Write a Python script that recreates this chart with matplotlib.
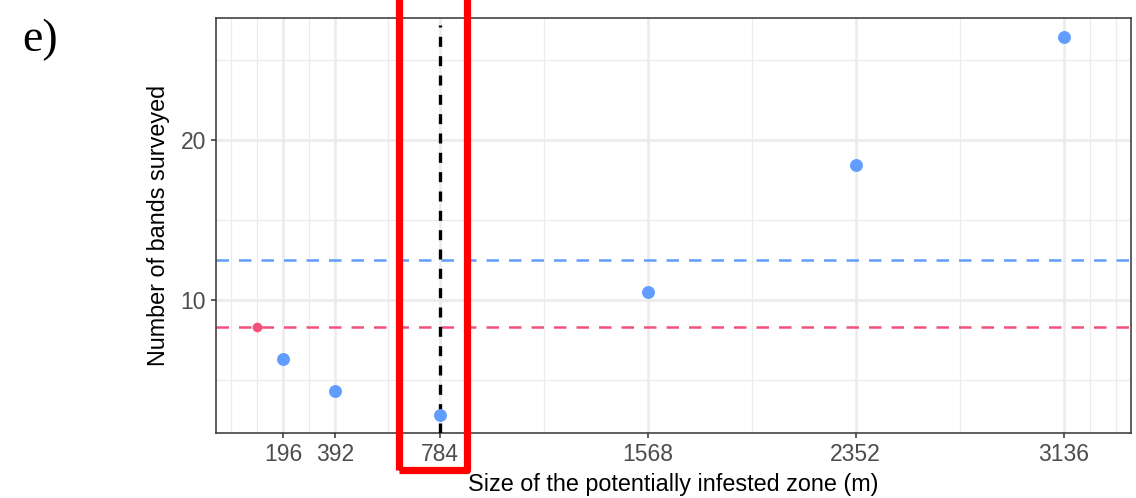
import matplotlib
matplotlib.use("Agg")
import matplotlib.pyplot as plt
from matplotlib.patches import Rectangle

# ---- data ----
zone_sizes = [196, 392, 784, 1568, 2352, 3136]
bands_blue = [6.3, 4.33, 2.83, 10.5, 18.44, 26.46]
red_x = [98]
red_y = [8.3]
mean_blue = 12.48
mean_red = 8.3
x_ticks = [196, 392, 784, 1568, 2352, 3136]
x_tick_labels = ["196", "392", "784", "1568", "2352", "3136"]
y_ticks = [10, 20]
x_minor = [0, 98, 294, 588, 1176, 1960, 2744, 3234, 3332]
y_minor = [5, 15, 25]
vline_x = 784
vline_top = 27.2
highlight_x = (631, 887)

BLUE = "#619CFF"
RED = "#F2527A"

plt.rcParams['font.family'] = ['Liberation Sans', 'DejaVu Sans']

fig = plt.figure(figsize=(11.36, 4.98), dpi=100)
ax = fig.add_axes([215.5/1136, 1-433.3/498, (1131-215.5)/1136, (433.3-17.7)/498])

ax.set_xlim(-60, 3389)
ax.set_ylim(1.67, 27.64)

# grid
for xm in x_minor:
    ax.axvline(xm, color="#EBEBEB", lw=0.9, zorder=0)
for ym in y_minor:
    ax.axhline(ym, color="#EBEBEB", lw=0.9, zorder=0)
for xv in x_ticks:
    ax.axvline(xv, color="#EBEBEB", lw=1.8, zorder=0.5)
for yv in y_ticks:
    ax.axhline(yv, color="#EBEBEB", lw=1.8, zorder=0.5)

# mean lines
ax.axhline(mean_blue, color=BLUE, lw=1.8, dashes=(5.0, 4.0), zorder=2)
ax.axhline(mean_red, color=RED, lw=1.8, dashes=(5.0, 4.0), zorder=2)

# vertical dashed black line
ax.plot([vline_x, vline_x], [ax.get_ylim()[0], vline_top], color="black", lw=2.4,
        dashes=(3.0, 2.8), zorder=3)

# points
ax.plot(zone_sizes, bands_blue, "o", color=BLUE, ms=9.3, mec="none", zorder=4)
ax.plot(red_x, red_y, "o", color=RED, ms=7, mec="none", zorder=4)

# axes styling
for s in ax.spines.values():
    s.set_color("#333333")
    s.set_linewidth(1.1)
ax.set_xticks(x_ticks)
ax.set_xticklabels(x_tick_labels)
ax.set_yticks(y_ticks)
ax.tick_params(axis="both", colors="#333333", labelcolor="#4D4D4D", length=3.5,
               width=1.1, labelsize=16.5)
ax.tick_params(axis="x", pad=3.5)
ax.tick_params(axis="y", pad=3.5)
ax.set_facecolor("white")

ax.set_xlabel("Size of the potentially infested zone (m)", fontsize=16.8, color="black")
ax.set_ylabel("Number of bands surveyed", fontsize=16.8, color="black")
ax.xaxis.set_label_coords(0.5, -0.122)
ax.xaxis.label.set_va("center")
ax.yaxis.set_label_coords(-0.0628, 0.501)
ax.yaxis.label.set_va("center")

# red highlight box
ax.add_patch(Rectangle((highlight_x[0], -0.6), highlight_x[1]-highlight_x[0], 40,
                       fill=False, edgecolor="#FF0000", lw=5.2, clip_on=False,
                       joinstyle="round", zorder=10))

fig.text(22/1136, 1-51/498, "e)", fontsize=33, family="Liberation Serif",
         ha="left", va="baseline", color="black")

fig.savefig("out.png", dpi=100)
